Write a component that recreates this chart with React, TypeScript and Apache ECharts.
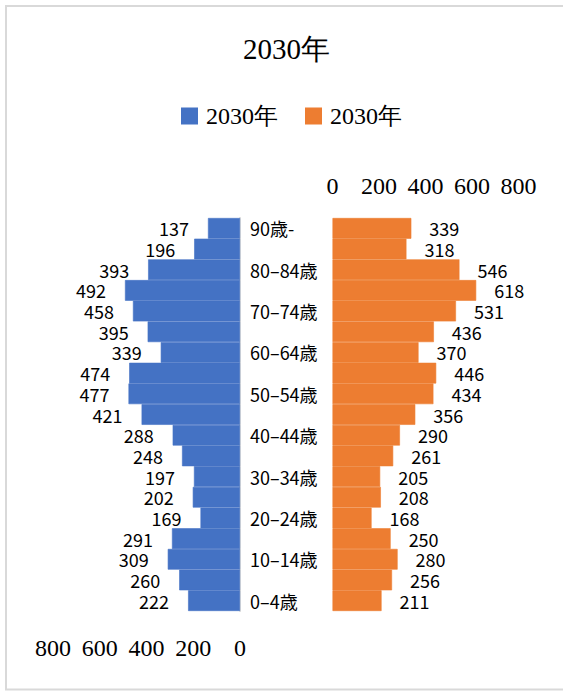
import React, { useEffect, useRef } from "react";
import * as echarts from "echarts";

const categories = ["0–4歳", "5–9歳", "10–14歳", "15–19歳", "20–24歳", "25–29歳", "30–34歳", "35–39歳", "40–44歳", "45–49歳", "50–54歳", "55–59歳", "60–64歳", "65–69歳", "70–74歳", "75–79歳", "80–84歳", "85–89歳", "90歳-"];
const leftValues = [222, 260, 309, 291, 169, 202, 197, 248, 288, 421, 477, 474, 339, 395, 458, 492, 393, 196, 137];
const rightValues = [211, 256, 280, 250, 168, 208, 205, 261, 290, 356, 434, 446, 370, 436, 531, 618, 546, 318, 339];
const axisTicks = [0, 200, 400, 600, 800];
const titleText = "2030年";
const legendLabels = ["2030年", "2030年"];

const SERIF = "Liberation Serif";
const SANS = "Noto Sans CJK JP";

export default function App() {
  const ref = useRef<HTMLDivElement>(null);
  useEffect(() => {
    if (!ref.current) return;
    const chart = echarts.init(ref.current, null, { renderer: "svg" });
    const seriesNames = ["s1", "s2"];
    chart.setOption({
      animation: false,
      backgroundColor: "#ffffff",
      title: {
        text: titleText,
        left: 243,
        top: 34,
        padding: 0,
        textStyle: { fontFamily: SERIF, fontSize: 29, fontWeight: "normal", color: "#000" },
      },
      legend: {
        data: seriesNames,
        left: 181,
        top: 104,
        padding: 0,
        itemWidth: 15,
        itemHeight: 15,
        itemGap: 27,
        icon: "rect",
        formatter: (n: string) => legendLabels[seriesNames.indexOf(n)],
        textStyle: { fontFamily: SERIF, fontSize: 24, color: "#000", padding: [0, 0, 0, 4] },
      },
      graphic: [
        {
          type: "rect",
          shape: { x: 6, y: 6, width: 620, height: 683.5 },
          style: { fill: "none", stroke: "#d9d9d9", lineWidth: 2 },
          silent: true,
        },
      ],
      grid: [
        { left: 53, width: 187, top: 218, bottom: 80, containLabel: false },
        { left: 332.5, width: 186, top: 218, bottom: 80, containLabel: false },
      ],
      xAxis: [
        {
          type: "value",
          gridIndex: 0,
          min: axisTicks[0],
          max: axisTicks[axisTicks.length - 1],
          interval: 200,
          inverse: true,
          position: "bottom",
          axisLine: { show: false },
          axisTick: { show: false },
          splitLine: { show: false },
          axisLabel: { fontFamily: SERIF, fontSize: 24, color: "#000", margin: 25 },
        },
        {
          type: "value",
          gridIndex: 1,
          min: axisTicks[0],
          max: axisTicks[axisTicks.length - 1],
          interval: 200,
          position: "top",
          axisLine: { show: false },
          axisTick: { show: false },
          splitLine: { show: false },
          axisLabel: { fontFamily: SERIF, fontSize: 24, color: "#000", margin: 20 },
        },
      ],
      yAxis: [
        {
          type: "category",
          gridIndex: 0,
          data: categories,
          position: "right",
          axisLine: { show: true, lineStyle: { color: "#d9d9d9", width: 2 } },
          axisTick: { show: false },
          axisLabel: {
            interval: 1,
            margin: 10,
            align: "left",
            fontFamily: SANS,
            fontSize: 18,
            lineHeight: 18,
            color: "#000",
          },
        },
        {
          type: "category",
          gridIndex: 1,
          data: categories,
          show: false,
        },
      ],
      series: [
        {
          name: seriesNames[0],
          type: "bar",
          xAxisIndex: 0,
          yAxisIndex: 0,
          data: leftValues,
          barCategoryGap: "0%",
          itemStyle: { color: "#4472C4", borderColor: "#4472C4", borderWidth: 0.6 },
          label: {
            show: true,
            position: "left",
            distance: 19,
            fontFamily: SANS,
            fontSize: 18,
            lineHeight: 18,
            color: "#000",
          },
        },
        {
          name: seriesNames[1],
          type: "bar",
          xAxisIndex: 1,
          yAxisIndex: 1,
          data: rightValues,
          barCategoryGap: "0%",
          itemStyle: { color: "#ED7D31", borderColor: "#ED7D31", borderWidth: 0.6 },
          label: {
            show: true,
            position: "right",
            distance: 18,
            fontFamily: SANS,
            fontSize: 18,
            lineHeight: 18,
            color: "#000",
          },
        },
      ],
    });
    return () => chart.dispose();
  }, []);
  return (
    <div
      ref={ref}
      style={{ position: "absolute", left: 0, top: 0, width: 563, height: 691 }}
    />
  );
}
